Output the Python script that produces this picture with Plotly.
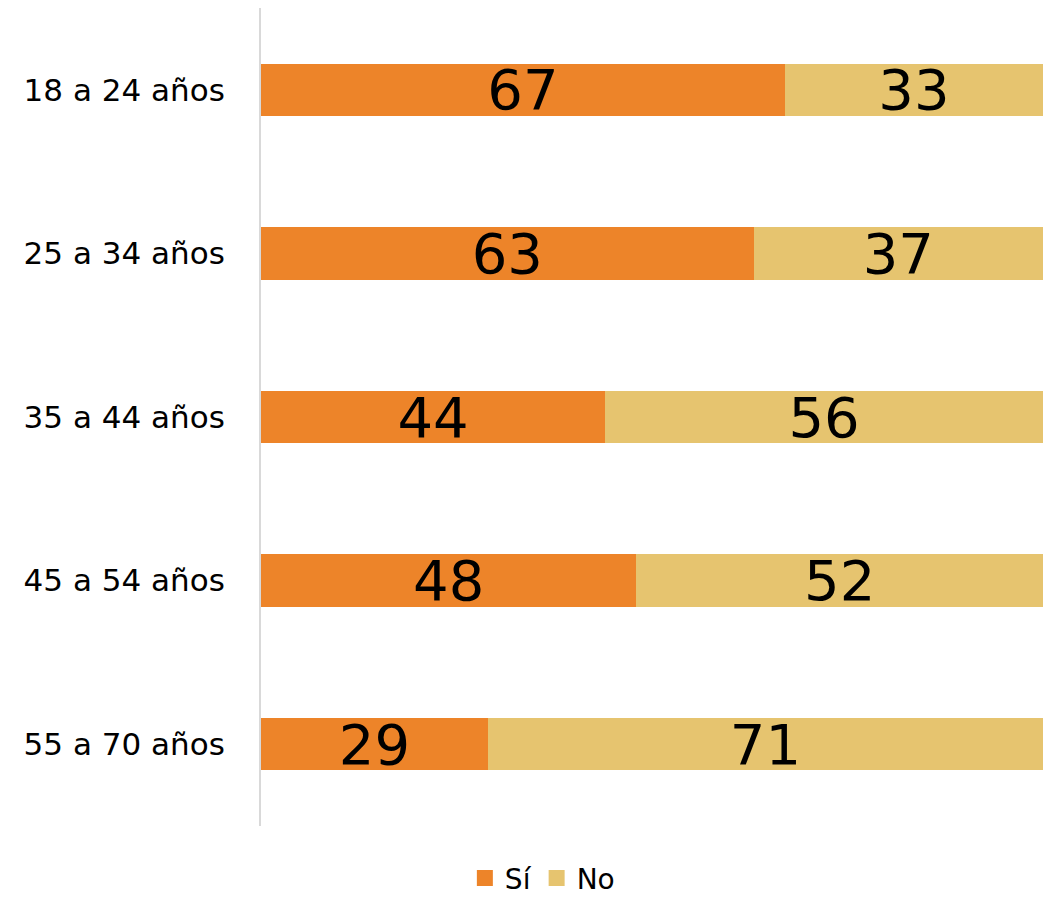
import plotly.graph_objects as go

categories = ["18 a 24 años", "25 a 34 años", "35 a 44 años", "45 a 54 años", "55 a 70 años"]
si_values = [67, 63, 44, 48, 29]
no_values = [33, 37, 56, 52, 71]

ORANGE = "#ED8429"
SAND = "#E6C46F"
FONT = "DejaVu Sans"

fig = go.Figure()
for name, vals, color in (("Sí", si_values, ORANGE), ("No", no_values, SAND)):
    fig.add_trace(go.Bar(
        y=categories, x=vals, name=name, orientation="h",
        marker=dict(color=color, line=dict(width=0)),
        text=vals, textposition="inside", insidetextanchor="middle",
        textangle=0, constraintext="none", cliponaxis=False,
        textfont=dict(family=FONT, size=56, color="black"),
        showlegend=False,
    ))
    # legend entry drawn with a larger square swatch
    fig.add_trace(go.Scatter(
        x=[None], y=[None], mode="markers", name=name,
        marker=dict(symbol="square", size=20, color=color),
        showlegend=True, hoverinfo="skip",
    ))

fig.update_layout(
    barmode="stack",
    bargap=0.68,
    width=1043, height=898,
    margin=dict(l=261, r=0, t=8, b=72, autoexpand=False),
    paper_bgcolor="white", plot_bgcolor="white",
    font=dict(family=FONT, color="black"),
    showlegend=True,
    legend=dict(
        orientation="h", xref="container", x=0.52, xanchor="center",
        yref="paper", y=-0.064, yanchor="middle",
        font=dict(family=FONT, size=28, color="black"),
        traceorder="normal", itemwidth=30,
    ),
)
fig.update_xaxes(range=[0, 100], showgrid=False, zeroline=False,
                 showticklabels=False, showline=False)
fig.update_yaxes(autorange="reversed", showgrid=False, zeroline=False,
                 showline=True, linecolor="#D9D9D9", linewidth=2,
                 ticks="", ticklabelstandoff=28,
                 tickfont=dict(family=FONT, size=31, color="black"))

fig.write_html("out.html")
